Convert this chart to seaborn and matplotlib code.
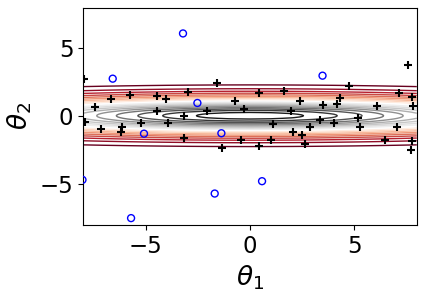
import numpy as np
import pandas as pd
import matplotlib
matplotlib.use("Agg")
import matplotlib.pyplot as plt
import seaborn as sns

# accepted samples (black +)
acc_t1 = [-7.96, -6.67, -5.76, -4.47, -4.02, -7.41, -4.47, -7.92, -5.20, -3.95,
          -7.15, -6.12, -6.16, -1.56, -2.95, -0.70, -0.30, -2.04, -3.18, -3.18,
          -0.45, -1.36, 0.42, 1.65, 2.38, 3.48, 4.17, 1.95, 3.37, 4.04,
          1.12, 2.86, 2.08, 2.51, 0.99, 2.62, 0.42, 7.59, 4.73, 7.13,
          7.75, 4.30, 6.10, 7.80, 5.16, 5.26, 7.06, 6.49, 7.76, 7.70]
acc_t2 = [2.72, 1.27, 1.59, 1.52, 1.27, 0.71, 0.41, -0.44, -0.47, -0.47,
          -0.93, -0.76, -1.15, 2.47, 1.79, 1.13, 0.54, 0.41, 0.05, -1.57,
          -1.72, -2.33, 1.74, 1.88, 1.13, 0.85, 0.93, 0.41, -0.27, -0.47,
          -0.54, -0.76, -1.13, -1.35, -1.72, -2.01, -2.16, 3.80, 2.23, 1.74,
          1.45, 1.32, 0.76, 0.78, -0.15, -0.81, -0.76, -1.74, -1.82, -2.48]

# rejected samples (blue circles)
rej_t1 = [-3.21, -6.58, -2.52, 3.48, -5.08, -1.37, -8.03, -1.69, -5.70, 0.58]
rej_t2 = [6.10, 2.77, 0.98, 2.99, -1.28, -1.25, -4.68, -5.69, -7.50, -4.78]

# posterior shape
peak = 0.983
sig1, sig2 = 10.0, 0.93
mu2 = 0.04
levels = np.arange(0.05, 0.96, 0.05)

acc = pd.DataFrame({"theta1": acc_t1, "theta2": acc_t2})
rej = pd.DataFrame({"theta1": rej_t1, "theta2": rej_t2})

g1 = np.linspace(-8, 8, 17)
g2 = np.linspace(-8, 8, 321)
T1, T2 = np.meshgrid(g1, g2)
Z = peak * np.exp(-0.5 * ((T1 / sig1) ** 2 + ((T2 - mu2) / sig2) ** 2))

fig, ax = plt.subplots(figsize=(4.24, 2.94), dpi=100)
fig.subplots_adjust(left=0.196, right=0.983, bottom=0.235, top=0.974)

ax.contour(T1, T2, Z, levels=levels, cmap="RdGy", linewidths=1.0)
sns.scatterplot(data=acc, x="theta1", y="theta2", marker="+", color="black",
                s=30, linewidth=1.5, ax=ax, zorder=3)
sns.scatterplot(data=rej, x="theta1", y="theta2", marker="o", facecolor="none",
                edgecolor="blue", s=25, linewidth=1.0, ax=ax, zorder=4)

ax.set_xlim(-8, 8)
ax.set_ylim(-8, 8)
ax.set_xticks([-5, 0, 5])
ax.set_yticks([-5, 0, 5])
ax.tick_params(labelsize=16.5)
ax.set_xlabel(r"$\theta_1$", fontsize=19)
ax.set_ylabel(r"$\theta_2$", fontsize=19)

fig.savefig("out.png", dpi=100)
